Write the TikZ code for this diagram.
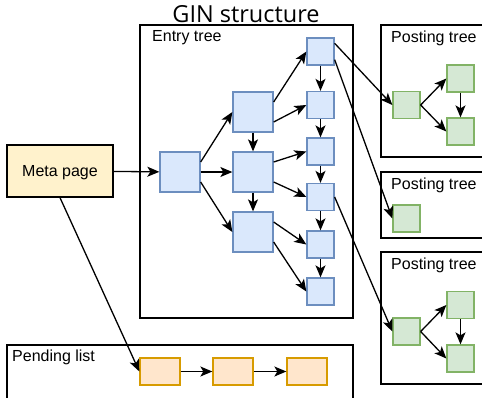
\documentclass[tikz,border=0pt]{standalone}
\usepackage{fontspec}
\setmainfont{Liberation Sans}
\newfontfamily\titlefont{Open Sans}
\usetikzlibrary{arrows.meta}
\usetikzlibrary{positioning}

\definecolor{entryfill}{HTML}{DAE8FC}
\definecolor{entryline}{HTML}{6C8EBF}
\definecolor{postfill}{HTML}{D5E8D4}
\definecolor{postline}{HTML}{82B366}
\definecolor{pendfill}{HTML}{FFE6CC}
\definecolor{pendline}{HTML}{D79B00}
\definecolor{metafill}{HTML}{FFF2CC}

\begin{document}
\begin{tikzpicture}[
    x=1pt, y=-1pt,
    every node/.style={font=\fontsize{16}{19}\selectfont},
    container/.style={draw=black, fill=white, line width=1.3pt},
    entry/.style={draw=entryline, fill=entryfill, line width=1.3pt, minimum size=40pt, inner sep=0pt},
    leaf/.style={entry, minimum size=27pt},
    posting/.style={leaf, draw=postline, fill=postfill},
    pending/.style={draw=pendline, fill=pendfill, line width=1.3pt, minimum width=40pt, minimum height=27pt, inner sep=0pt},
    meta/.style={draw=black, fill=metafill, line width=1.3pt, minimum width=106pt, minimum height=52pt, inner sep=0pt, text depth=0pt},
    lbl/.style={anchor=west, inner sep=0pt},
    arrow/.style={line width=1.3pt, -{Stealth[length=12pt, width=10pt, inset=3pt]}}
  ]
  \useasboundingbox (0,0) rectangle (482,397);
  \clip (0,0) rectangle (482,397);

  \node[inner sep=0pt, font=\titlefont\fontsize{23.5}{28}\selectfont] (title) at (246,14) {GIN structure};

  % containers
  \draw[container] (140,25) rectangle (353,318);
  \node[lbl] (entrylbl) at (152,38) {Entry tree};
  \draw[container] (381,25) rectangle (492,157);
  \node[lbl] (post1lbl) at (391,38) {Posting tree};
  \draw[container] (381,172) rectangle (492,238);
  \node[lbl] (post2lbl) at (391,185) {Posting tree};
  \draw[container] (381,252) rectangle (492,384);
  \node[lbl] (post3lbl) at (391,265) {Posting tree};
  \draw[container] (7,345) rectangle (353,410);
  \node[lbl] (pendlbl) at (12,357) {Pending list};

  \node[meta] (meta) at (60,171) {Meta page};

  % entry tree
  \node[entry] (root) at (180,172) {};
  \node[entry] (ia) at (253,112) {};
  \node[entry] (ib) at (253,172) {};
  \node[entry] (ic) at (253,232) {};
  \node[leaf] (la) at (320.5,51.5) {};
  \node[leaf] (lb) at (320.5,105) {};
  \node[leaf] (lc) at (320.5,151.5) {};
  \node[leaf] (ld) at (320.5,197) {};
  \node[leaf] (le) at (320.5,244.5) {};
  \node[leaf] (lf) at (320.5,291.5) {};

  % posting trees
  \node[posting] (pa) at (406.5,105) {};
  \node[posting] (pb) at (460.5,78.5) {};
  \node[posting] (pc) at (460.5,131.5) {};
  \node[posting] (qa) at (406.5,218.5) {};
  \node[posting] (ra) at (406.5,331.5) {};
  \node[posting] (rb) at (460.5,305) {};
  \node[posting] (rc) at (460.5,358.5) {};

  % pending list
  \node[pending] (na) at (160,371.5) {};
  \node[pending] (nb) at (233,371.5) {};
  \node[pending] (nc) at (307,371.5) {};

  \draw[arrow] (meta) -- (root);
  \draw[arrow] (meta.south) -- (na.west);

  \draw[arrow] ([yshift=10pt]root.east) -- (ia.west);
  \draw[arrow] (root) -- (ib);
  \draw[arrow] ([yshift=-10pt]root.east) -- (ic.west);
  \draw[arrow] (ia) -- (ib);
  \draw[arrow] (ib) -- (ic);
  \foreach \from/\to in {ia/la, ib/lc, ic/le} {
    \draw[arrow] ([yshift=10pt]\from.east) -- (\to.west);
  }
  \foreach \from/\to in {ia/lb, ib/ld, ic/lf} {
    \draw[arrow] ([yshift=-10pt]\from.east) -- (\to.west);
  }
  \foreach \from/\to in {la/lb, lb/lc, lc/ld, ld/le, le/lf} {
    \draw[arrow] (\from) -- (\to);
  }

  \draw[arrow] (la.30) -- (pa.west);
  \draw[arrow] (la.-30) -- (qa.west);
  \draw[arrow] (ld.east) -- (ra.west);

  \draw[arrow] (pa.east) -- (pb.west);
  \draw[arrow] (pa.east) -- (pc.west);
  \draw[arrow] (pb) -- (pc);
  \draw[arrow] (ra.east) -- (rb.west);
  \draw[arrow] (ra.east) -- (rc.west);
  \draw[arrow] (rb) -- (rc);

  \draw[arrow] (na) -- (nb);
  \draw[arrow] (nb) -- (nc);
\end{tikzpicture}
\end{document}
